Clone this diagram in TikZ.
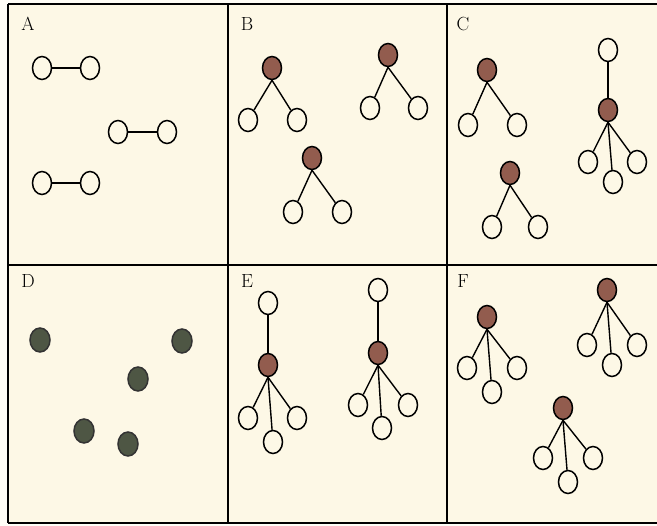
\documentclass[tikz,border=0pt]{standalone}
\usepackage{fontspec}
\usepackage{tikz}
\usetikzlibrary{shapes.geometric}

\definecolor{paper}{RGB}{253,248,230}
\definecolor{rim}{RGB}{255,253,246}
\definecolor{hubbrown}{RGB}{146,92,78}
\definecolor{spotgreen}{RGB}{78,86,68}

\begin{document}
\begin{tikzpicture}[x=1pt,y=-1pt,
  leaf/.style={ellipse, draw, line width=1.5pt, fill=paper, inner sep=0pt, minimum width=19pt, minimum height=23pt},
  hub/.style={leaf, fill=hubbrown},
  spot/.style={leaf, draw=black!80, fill=spotgreen, minimum width=20pt, minimum height=24pt},
  edge/.style={line width=1.4pt},
  frame/.style={line width=2pt},
  tag/.style={font=\fontsize{19}{21}\selectfont, inner sep=0pt}]

%%%  background
\useasboundingbox (0,0) rectangle (657,526);
\fill [rim] (0,0) rectangle (657,526);
\fill [paper] (8,4) rectangle (657,523);

% grid
\coordinate (nw) at (8,4);
\coordinate (ne) at (657,4);
\coordinate (sw) at (8,523);
\coordinate (se) at (657,523);
\coordinate (mw) at (8,265);
\coordinate (me) at (657,265);
\coordinate (ut) at (228,4);
\coordinate (ub) at (228,523);
\coordinate (vt) at (447,4);
\coordinate (vb) at (447,523);
\draw [frame] (nw) to (ne);
\draw [frame] (sw) to (se);
\draw [frame] (nw) to (sw);
\draw [frame] (mw) to (me);
\draw [frame] (ut) to (ub);
\draw [frame] (vt) to (vb);

%%%  nodes

% panel A
\node [tag] (labA) at (28,24) {A};
\node [leaf] (a1) at (42,68) {};
\node [leaf] (a2) at (90,68) {};
\node [leaf] (a3) at (118,132) {};
\node [leaf] (a4) at (167,132) {};
\node [leaf] (a5) at (42,183) {};
\node [leaf] (a6) at (90,183) {};

% panel B
\node [tag] (labB) at (247,24) {B};
\node [hub] (b1) at (272,68) {};
\node [leaf] (b11) at (248,120) {};
\node [leaf] (b12) at (297,120) {};
\node [hub] (b2) at (388,55) {};
\node [leaf] (b21) at (370,108) {};
\node [leaf] (b22) at (418,108) {};
\node [hub] (b3) at (312,158) {};
\node [leaf] (b31) at (293,212) {};
\node [leaf] (b32) at (342,212) {};

% panel C
\node [tag] (labC) at (463,24) {C};
\node [hub] (c1) at (487,70) {};
\node [leaf] (c11) at (468,125) {};
\node [leaf] (c12) at (517,125) {};
\node [leaf] (c2t) at (608,50) {};
\node [hub] (c2) at (608,110) {};
\node [leaf] (c21) at (588,162) {};
\node [leaf] (c22) at (613,182) {};
\node [leaf] (c23) at (637,162) {};
\node [hub] (c3) at (510,173) {};
\node [leaf] (c31) at (492,227) {};
\node [leaf] (c32) at (538,227) {};

% panel D
\node [tag] (labD) at (28,281) {D};
\node [spot] (d1) at (40,340) {};
\node [spot] (d2) at (182,341) {};
\node [spot] (d3) at (138,379) {};
\node [spot] (d4) at (84,431) {};
\node [spot] (d5) at (128,444) {};

% panel E
\node [tag] (labE) at (247,281) {E};
\node [leaf] (e1t) at (268,303) {};
\node [hub] (e1) at (268,365) {};
\node [leaf] (e11) at (248,418) {};
\node [leaf] (e12) at (273,442) {};
\node [leaf] (e13) at (297,418) {};
\node [leaf] (e2t) at (378,290) {};
\node [hub] (e2) at (378,353) {};
\node [leaf] (e21) at (358,405) {};
\node [leaf] (e22) at (382,428) {};
\node [leaf] (e23) at (408,405) {};

% panel F
\node [tag] (labF) at (463,281) {F};
\node [hub] (f1) at (487,317) {};
\node [leaf] (f11) at (467,368) {};
\node [leaf] (f12) at (492,392) {};
\node [leaf] (f13) at (517,368) {};
\node [hub] (f2) at (607,290) {};
\node [leaf] (f21) at (587,345) {};
\node [leaf] (f22) at (612,365) {};
\node [leaf] (f23) at (637,345) {};
\node [hub] (f3) at (563,408) {};
\node [leaf] (f31) at (543,458) {};
\node [leaf] (f32) at (568,482) {};
\node [leaf] (f33) at (593,458) {};

%%%  edges

% panel A
\draw [edge] (a1) to (a2);
\draw [edge] (a3) to (a4);
\draw [edge] (a5) to (a6);

% panel B
\draw [edge] (b1.south) to (b11);
\draw [edge] (b1.south) to (b12);
\draw [edge] (b2.south) to (b21);
\draw [edge] (b2.south) to (b22);
\draw [edge] (b3.south) to (b31);
\draw [edge] (b3.south) to (b32);

% panel C
\draw [edge] (c1.south) to (c11);
\draw [edge] (c1.south) to (c12);
\draw [edge] (c2t) to (c2);
\draw [edge] (c2.south) to (c21);
\draw [edge] (c2.south) to (c22);
\draw [edge] (c2.south) to (c23);
\draw [edge] (c3.south) to (c31);
\draw [edge] (c3.south) to (c32);

% panel E
\draw [edge] (e1t) to (e1);
\draw [edge] (e1.south) to (e11);
\draw [edge] (e1.south) to (e12);
\draw [edge] (e1.south) to (e13);
\draw [edge] (e2t) to (e2);
\draw [edge] (e2.south) to (e21);
\draw [edge] (e2.south) to (e22);
\draw [edge] (e2.south) to (e23);

% panel F
\draw [edge] (f1.south) to (f11);
\draw [edge] (f1.south) to (f12);
\draw [edge] (f1.south) to (f13);
\draw [edge] (f2.south) to (f21);
\draw [edge] (f2.south) to (f22);
\draw [edge] (f2.south) to (f23);
\draw [edge] (f3.south) to (f31);
\draw [edge] (f3.south) to (f32);
\draw [edge] (f3.south) to (f33);

\end{tikzpicture}
\end{document}
